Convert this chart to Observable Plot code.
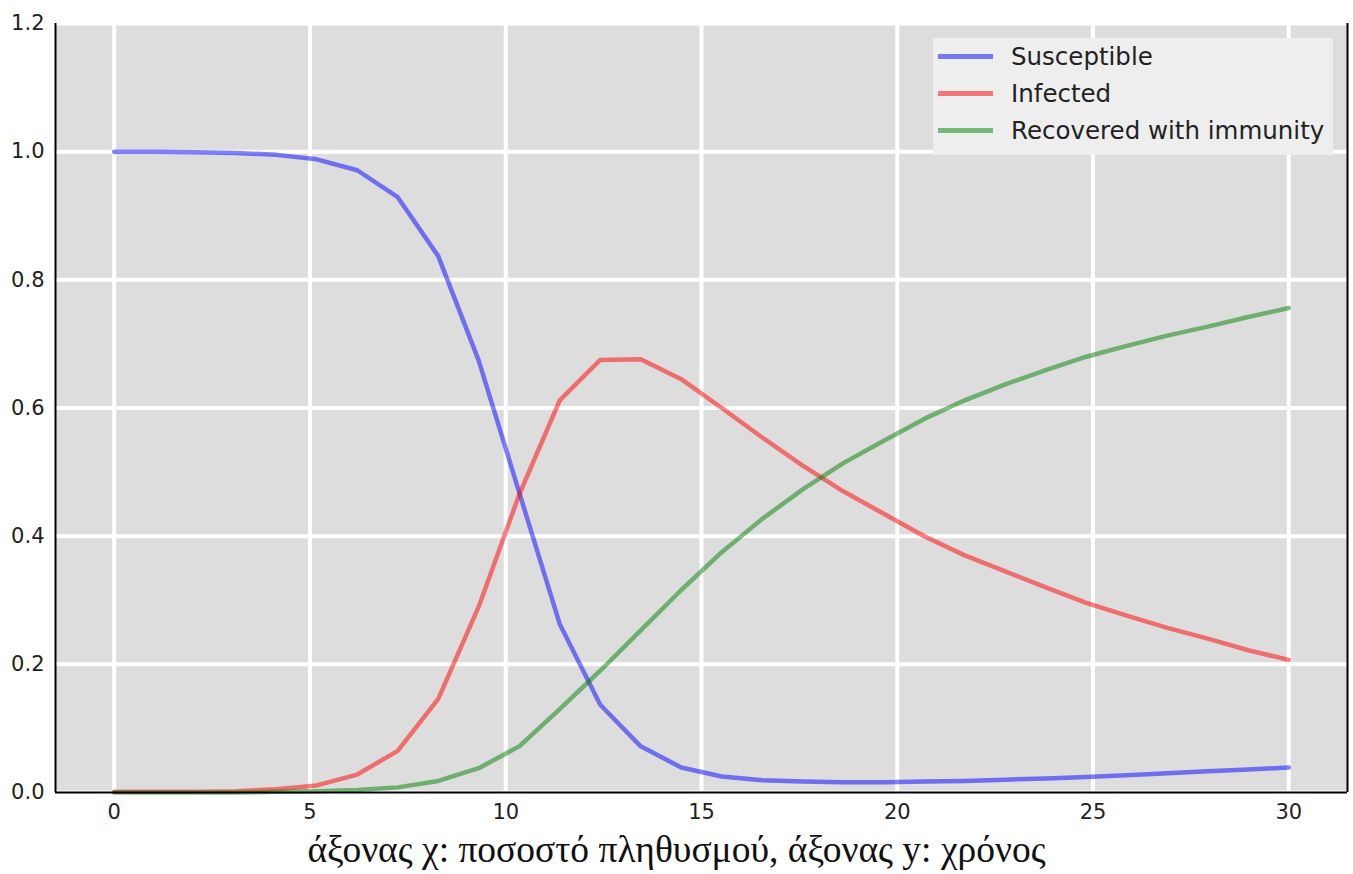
<!DOCTYPE html>
<html><head><meta charset="utf-8">
<script src="https://cdn.jsdelivr.net/npm/d3@7"></script>
<script src="https://cdn.jsdelivr.net/npm/@observablehq/plot@0.6"></script>
<style>
body{margin:0;background:#fff;overflow:hidden;}
#wrap{position:relative;width:1353px;height:874px;}
#chart svg{display:block;}
#caption{position:absolute;left:0;top:835px;font-family:"Liberation Serif","Times New Roman",serif;font-size:37.5px;line-height:29px;text-align:center;color:#111;width:1353px;}
#legend{position:absolute;left:933px;top:38px;width:400px;height:117px;background:#eeeeee;font-family:"DejaVu Sans",sans-serif;font-size:24.5px;color:#222;}
.row{position:absolute;left:0;height:37px;display:flex;align-items:center;white-space:nowrap;}
.sw{width:55px;height:4.5px;margin-left:5px;margin-right:18px;}
</style></head><body>
<div id="wrap"><div id="chart"></div><div id="legend"></div><div id="caption"></div></div>
<script>
const times = [0, 1.034, 2.069, 3.103, 4.138, 5.172, 6.207, 7.241, 8.276, 9.310, 10.345, 11.379, 12.414, 13.448, 14.483, 15.517, 16.552, 17.586, 18.621, 19.655, 20.690, 21.724, 22.759, 23.793, 24.828, 25.862, 26.897, 27.931, 28.966, 30];
const susceptible = [1.0, 1.0, 0.999, 0.998, 0.995, 0.988, 0.971, 0.929, 0.837, 0.674, 0.468, 0.263, 0.137, 0.072, 0.039, 0.025, 0.019, 0.017, 0.016, 0.016, 0.017, 0.018, 0.020, 0.022, 0.024, 0.027, 0.030, 0.033, 0.036, 0.039];
const infected = [0.001, 0.001, 0.001, 0.002, 0.005, 0.011, 0.028, 0.065, 0.146, 0.290, 0.465, 0.612, 0.675, 0.676, 0.645, 0.600, 0.554, 0.510, 0.470, 0.435, 0.400, 0.370, 0.345, 0.320, 0.296, 0.276, 0.257, 0.240, 0.222, 0.207];
const recovered = [0, 0, 0, 0, 0.001, 0.002, 0.004, 0.008, 0.018, 0.038, 0.072, 0.130, 0.190, 0.253, 0.316, 0.375, 0.427, 0.473, 0.514, 0.549, 0.583, 0.612, 0.637, 0.659, 0.680, 0.697, 0.713, 0.727, 0.742, 0.756];
const seriesNames = ["Susceptible", "Infected", "Recovered with immunity"];
const seriesColors = ["blue", "red", "green"];
const xTicks = [0, 5, 10, 15, 20, 25, 30];
const yTicks = [0, 0.2, 0.4, 0.6, 0.8, 1.0, 1.2];
const xDomain = [-1.5, 31.5];
const yDomain = [0, 1.2];
const captionText = "άξονας χ: ποσοστό πληθυσμού, άξονας y: χρόνος";

const seriesValues = [susceptible, infected, recovered];
const rows = [];
seriesValues.forEach((vals, k) => vals.forEach((v, i) => rows.push({t: times[i], v, s: seriesNames[k]})));

const lineMarks = seriesNames.map((name, k) =>
  Plot.line(rows.filter(r => r.s === name), {x: "t", y: "v", stroke: seriesColors[k], strokeOpacity: 0.5, strokeWidth: 4.5, strokeLinejoin: "round"})
);

const chart = Plot.plot({
  width: 1353, height: 835,
  marginLeft: 55, marginRight: 6, marginTop: 23, marginBottom: 43,
  style: {fontFamily: "DejaVu Sans, sans-serif", fontSize: "21px", color: "#222", background: "white"},
  x: {domain: xDomain, label: null},
  y: {domain: yDomain, label: null},
  marks: [
    Plot.frame({fill: "#dddddd", stroke: null}),
    Plot.gridX(xTicks, {stroke: "white", strokeOpacity: 1, strokeWidth: 4}),
    Plot.gridY(yTicks, {stroke: "white", strokeOpacity: 1, strokeWidth: 4}),
    ...lineMarks,
    Plot.ruleY([yDomain[0]], {stroke: "black", strokeWidth: 2}),
    Plot.ruleX(xDomain, {stroke: "black", strokeWidth: 2}),
    Plot.axisX(xTicks, {tickSize: 0, tickPadding: 12, label: null, tickFormat: d => String(d)}),
    Plot.axisY(yTicks, {tickSize: 0, tickPadding: 11, label: null, tickFormat: d => d.toFixed(1)})
  ]
});
document.getElementById("chart").appendChild(chart);

const legend = document.getElementById("legend");
seriesNames.forEach((name, k) => {
  const row = document.createElement("div");
  row.className = "row";
  row.style.top = (k * 37) + "px";
  const sw = document.createElement("div");
  sw.className = "sw";
  sw.style.background = seriesColors[k];
  sw.style.opacity = 0.5;
  const label = document.createElement("span");
  label.textContent = name;
  row.appendChild(sw);
  row.appendChild(label);
  legend.appendChild(row);
});
document.getElementById("caption").textContent = captionText;
</script>
</body></html>
